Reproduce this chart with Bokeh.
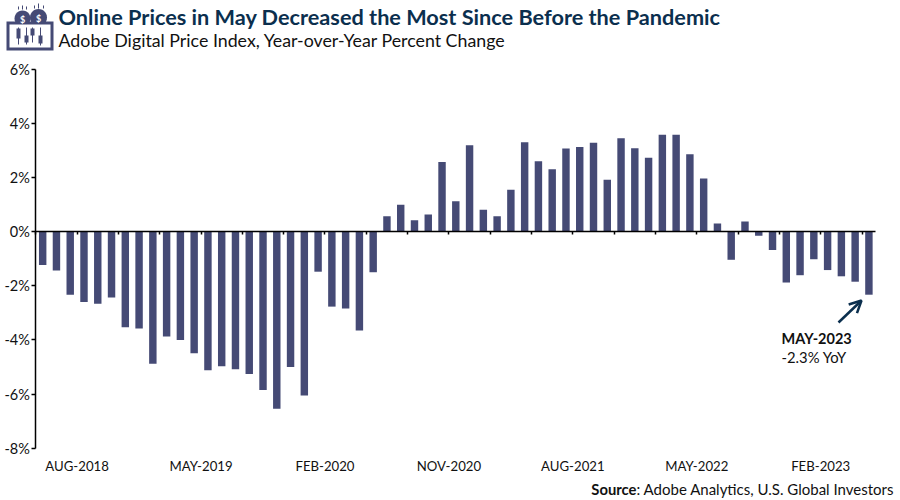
from bokeh.plotting import figure
from bokeh.models import (Range1d, LinearAxis, FixedTicker, Label, Arrow, OpenHead, PolyAnnotation)
from bokeh.embed import file_html
from bokeh.resources import INLINE
import math

values = [-1.23,-1.44,-2.33,-2.60,-2.66,-2.43,-3.53,-3.58,-4.88,-3.87,-4.00,-4.49,-5.12,-4.97,-5.08,-5.26,
          -5.85,-6.54,-5.00,-6.05,-1.48,-2.77,-2.84,-3.65,-1.50,
          0.57,0.99,0.42,0.63,2.57,1.12,3.19,0.81,0.57,1.55,3.30,2.60,2.30,3.07,3.13,3.28,1.92,3.45,3.08,2.73,
          3.58,3.58,2.86,1.96,0.30,
          -1.04,0.37,-0.15,-0.68,-1.88,-1.61,-1.02,-1.42,-1.65,-1.85,-2.33]
tick_positions = [3, 12, 21, 30, 39, 48, 57]
tick_labels = ["AUG-2018","MAY-2019","FEB-2020","NOV-2020","AUG-2021","MAY-2022","FEB-2023"]
y_ticks = [-8,-6,-4,-2,0,2,4,6]

BAR = "#454a75"
NAVY = "#0b2f4e"
FONT = "Lato"

L, T, FW, FH = 35.3, 68.7, 840, 379
CW, CH = 896, 498
def dx(px): return (px - L) / FW * 61
def dy(py): return 6 - (py - T) / FH * 14

p = figure(width=CW, height=CH, output_backend="svg", toolbar_location=None,
           x_range=Range1d(dx(0), dx(CW)), y_range=Range1d(dy(CH), dy(0)),
           frame_width=CW, frame_height=CH,
           min_border_left=0, min_border_right=0, min_border_top=0, min_border_bottom=0,
           x_axis_type=None, y_axis_type=None, outline_line_color=None)
p.xgrid.visible = False
p.ygrid.visible = False

p.vbar(x=[i + 0.5 for i in range(len(values))], top=values, bottom=0, width=0.54,
       fill_color=BAR, line_color=None)

yax = LinearAxis(ticker=FixedTicker(ticks=y_ticks), fixed_location=0, bounds=(-8, 6),
                 major_label_overrides={v: f"{v}%" for v in y_ticks})
yax.major_tick_out = 4; yax.major_tick_in = 0; yax.minor_tick_line_color = None
yax.axis_line_width = 1.5; yax.major_tick_line_width = 1.5
yax.axis_line_color = "black"; yax.major_tick_line_color = "black"
yax.major_label_text_font = FONT; yax.major_label_text_font_size = "14.5px"
yax.major_label_text_color = "#111111"; yax.major_label_standoff = 2
p.add_layout(yax, "left")

bax = LinearAxis(ticker=FixedTicker(ticks=tick_positions), fixed_location=-8,
                 major_label_overrides=dict(zip(tick_positions, tick_labels)))
bax.axis_line_color = None; bax.major_tick_line_color = None; bax.minor_tick_line_color = None
bax.major_label_text_font = FONT; bax.major_label_text_font_size = "13.2px"
bax.major_label_text_color = "#111111"; bax.major_label_standoff = 4
p.add_layout(bax, "below")

zax = LinearAxis(ticker=FixedTicker(ticks=list(range(0, 61, 3))), fixed_location=0, bounds=(0, 61))
zax.major_label_text_font_size = "0px"; zax.major_tick_out = 3; zax.major_tick_in = 0
zax.minor_tick_line_color = None; zax.axis_line_width = 1.5; zax.major_tick_line_width = 1.5
zax.axis_line_color = "black"; zax.major_tick_line_color = "black"
zax.major_label_overrides = {i: "" for i in range(0, 61, 3)}
zax.major_label_standoff = 0
p.add_layout(zax, "below")

def text(px, py, s, size, color="#111111", style="normal", align="left"):
    p.add_layout(Label(x=dx(px), y=dy(py), text=s,
                       text_font=FONT, text_font_size=f"{size}px",
                       text_color=color, text_font_style=style, text_align=align,
                       text_baseline="alphabetic"))

text(58, 16, "Online Prices in May Decreased the Most Since Before the Pandemic", 21.7, NAVY, "bold")
text(58, 39, "Adobe Digital Price Index, Year-over-Year Percent Change", 17.8)
text(781, 338, "MAY-2023", 14.5, "#111111", "bold")
text(781, 356, "-2.3% YoY", 14.8)
text(636, 488, "Source", 14.8, "#111111", "bold", "right")
text(636, 488, ": Adobe Analytics, U.S. Global Investors", 15)

p.add_layout(Arrow(x_start=dx(838), y_start=dy(322), x_end=dx(861), y_end=dy(300),
                   line_color=NAVY, line_width=2.5,
                   end=OpenHead(size=12, line_color=NAVY, line_width=2.5)))

def poly(xs, ys, color):
    p.add_layout(PolyAnnotation(xs=[dx(x) for x in xs], ys=[dy(y) for y in ys],
                                fill_color=color, fill_alpha=1, line_color=None))
def box(a, b, c, d, color): poly([a, c, c, a], [b, b, d, d], color)
def disc(cx, cy, r, color, a0=0, a1=360):
    n = 28
    t = [math.radians(a0 + (a1 - a0) * i / n) for i in range(n + 1)]
    poly([cx + r * math.cos(v) for v in t], [cy - r * math.sin(v) for v in t], color)

# icon
disc(22, 18, 8, BAR); disc(38, 17, 8.5, BAR)
box(6, 21, 53, 50, BAR); box(9, 24, 50, 47, "white")
for x, a, b, c, d in [(18, 27, 44, 28, 38), (26, 27, 44, 35, 42), (32, 27, 42, 28, 35), (40, 27, 45, 35, 43)]:
    box(x - .5, a, x + .5, b, BAR); box(x - 2, c, x + 2, d, BAR)
for x, a, b in [(22, 5, 9), (18, 6, 9), (26, 6, 9), (38, 3, 8), (34, 5, 8), (43, 5, 8)]:
    box(x - .5, a, x + .5, b, BAR)
text(19.5, 19, "$", 9, "white", "bold")
text(35.5, 18, "$", 9, "white", "bold")

open("out.html", "w").write(file_html(p, INLINE))
